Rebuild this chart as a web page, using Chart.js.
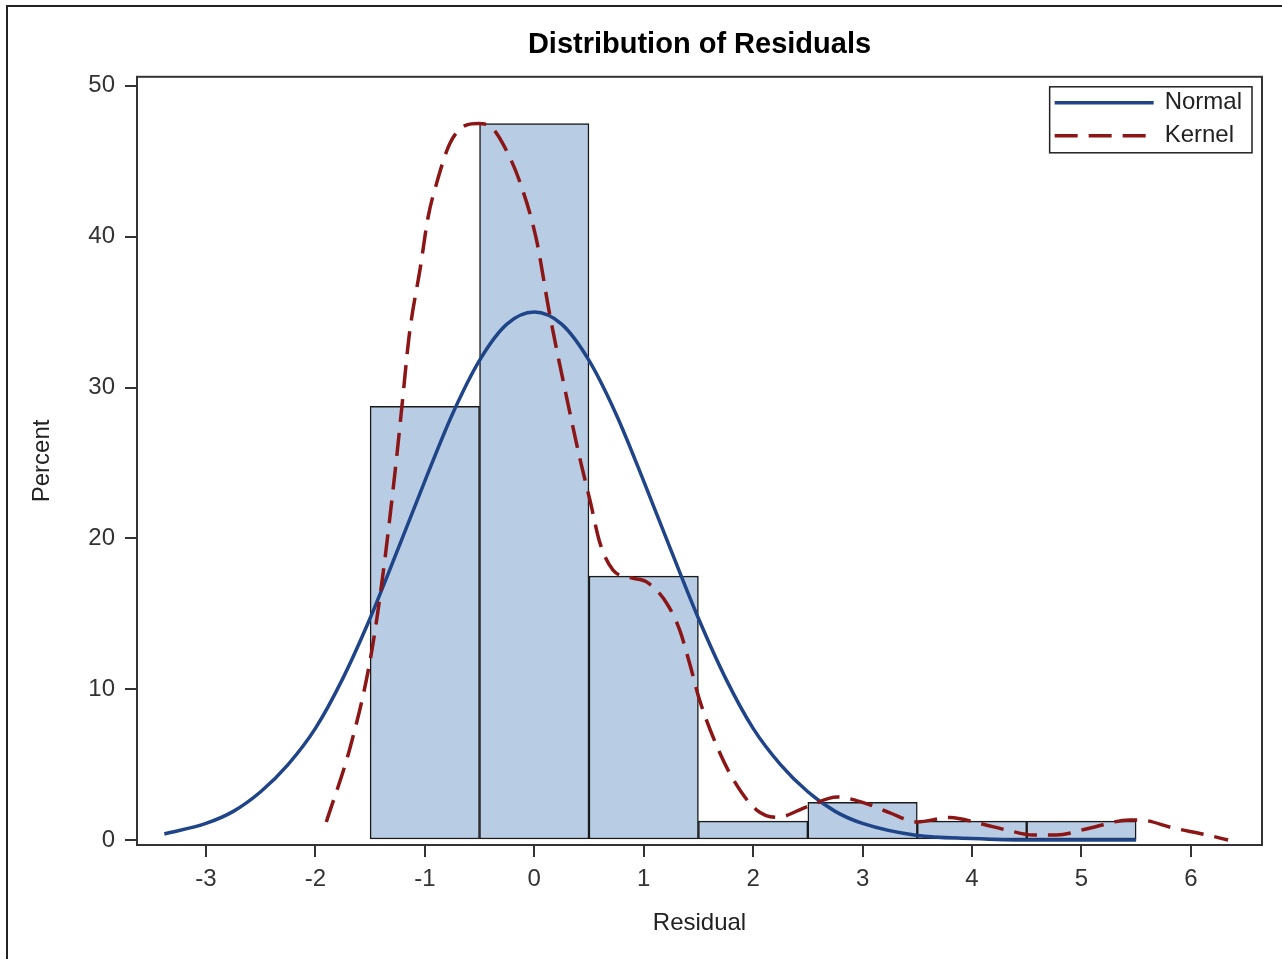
<!DOCTYPE html>
<html>
<head>
<meta charset="utf-8">
<title>Distribution of Residuals</title>
<script src="https://cdn.jsdelivr.net/npm/chart.js@4.4.1/dist/chart.umd.min.js"></script>
<style>
  html, body { margin: 0; padding: 0; background: #fff; overflow: hidden; }
  #wrap { position: relative; width: 1282px; height: 959px; }
  #frame {
    position: absolute; left: 6px; top: 5px; right: -10px; bottom: -10px;
    border-left: 2px solid #222; border-top: 2px solid #222;
    pointer-events: none;
  }
</style>
</head>
<body>
<div id="wrap">
  <canvas id="residChart"></canvas>
  <div id="frame"></div>
</div>
<script>
// histogram bins (percent of observations, bin width 1)
const binCenters  = [-1, 0, 1, 2, 3, 4, 5];
const binPercents = [28.75, 47.5, 17.5, 1.25, 2.5, 1.25, 1.25];

// normal density curve
const normalX = [-3.38, -3.0, -2.75, -2.5, -2.25, -2.0, -1.75, -1.5, -1.25, -1.0, -0.75, -0.5, -0.25,
                 0, 0.25, 0.5, 0.75, 1.0, 1.25, 1.5, 1.75, 2.0, 2.25, 2.5, 2.75, 3.0, 3.5, 4.0, 4.5, 5.0, 5.5];
const normalY = [0.4, 1.1, 1.9, 3.2, 5.0, 7.4, 10.7, 14.7, 19.2, 23.8, 28.2, 31.8, 34.2,
                 35.0, 34.2, 31.8, 28.2, 23.8, 19.2, 14.7, 10.7, 7.4, 5.0, 3.2, 1.9, 1.1, 0.3, 0.1, 0, 0, 0];

// kernel density curve
const kernelX = [-1.9, -1.68, -1.5, -1.39, -1.26, -1.21, -1.14, -1.04, -0.97, -0.89, -0.77, -0.62, -0.51,
                 -0.4, -0.29, -0.13, 0.02, 0.14, 0.3, 0.42, 0.51, 0.6, 0.72, 0.88, 1.03, 1.21, 1.33, 1.42,
                 1.51, 1.67, 1.82, 2.03, 2.22, 2.49, 2.77, 3.0, 3.25, 3.5, 3.8, 4.07, 4.32, 4.56, 4.77,
                 5.08, 5.44, 5.53, 5.84, 6.15, 6.34];
const kernelY = [1.2, 6.2, 11.9, 17.2, 25.2, 28.7, 33.6, 38.0, 41.3, 43.6, 46.2, 47.4, 47.5,
                 47.3, 46.2, 43.6, 39.8, 34.9, 29.2, 25.2, 22.5, 19.7, 17.9, 17.4, 17.1, 15.7, 13.9, 11.7,
                 9.3, 6.2, 4.0, 2.0, 1.5, 2.2, 2.85, 2.5, 1.8, 1.2, 1.5, 1.1, 0.66, 0.33, 0.33,
                 0.8, 1.33, 1.33, 0.8, 0.33, 0.0];

const xTicks = [-3, -2, -1, 0, 1, 2, 3, 4, 5, 6];
const yTicks = [0, 10, 20, 30, 40, 50];

const FONT = "'Liberation Sans', Arial, Helvetica, sans-serif";
const AXIS = '#333333';

const canvas = document.getElementById('residChart');

// ── box around the plot area ──
const plotFrame = {
  id: 'plotFrame',
  afterDatasetsDraw(chart) {
    const { ctx, chartArea: a } = chart;
    ctx.save();
    ctx.strokeStyle = AXIS;
    ctx.lineWidth = 2;
    ctx.strokeRect(a.left, a.top, a.right - a.left, a.bottom - a.top);
    ctx.restore();
  }
};

// ── legend box inside the top-right corner ──
const boxLegend = {
  id: 'boxLegend',
  afterDraw(chart) {
    const { ctx, chartArea: a } = chart;
    const items = chart.data.datasets.filter(d => d.type === 'line');
    ctx.save();
    ctx.font = '24px ' + FONT;
    const textW = Math.max(...items.map(d => ctx.measureText(d.label).width));
    const rowH = 33, padX = 5, lineLen = 99, gap = 11;
    const w = padX + lineLen + gap + textW + 10;
    const h = rowH * items.length;
    const x0 = a.right - 10 - w, y0 = a.top + 10;
    ctx.fillStyle = '#fff';
    ctx.fillRect(x0, y0, w, h);
    ctx.strokeStyle = '#222';
    ctx.lineWidth = 1.5;
    ctx.strokeRect(x0, y0, w, h);
    items.forEach((d, i) => {
      const cy = y0 + 16 + i * rowH;
      ctx.beginPath();
      ctx.setLineDash(d.borderDash || []);
      ctx.strokeStyle = d.borderColor;
      ctx.lineWidth = d.borderWidth;
      ctx.moveTo(x0 + padX, cy);
      ctx.lineTo(x0 + padX + lineLen, cy);
      ctx.stroke();
      ctx.setLineDash([]);
      ctx.fillStyle = '#222';
      ctx.textBaseline = 'middle';
      ctx.fillText(d.label, x0 + padX + lineLen + gap, cy);
    });
    ctx.restore();
  }
};

new Chart(canvas, {
  type: 'bar',
  data: {
    datasets: [
      {
        type: 'line',
        label: 'Normal',
        data: normalX.map((x, i) => ({ x, y: normalY[i] })),
        borderColor: '#1f4588',
        borderWidth: 3.5,
        pointRadius: 0,
        fill: false,
        cubicInterpolationMode: 'monotone',
        order: 2,
      },
      {
        type: 'line',
        label: 'Kernel',
        data: kernelX.map((x, i) => ({ x, y: kernelY[i] })),
        borderColor: '#8c1515',
        borderWidth: 3.5,
        borderDash: [23, 11],
        pointRadius: 0,
        fill: false,
        cubicInterpolationMode: 'monotone',
        order: 1,
      },
      {
        type: 'bar',
        label: 'Percent',
        data: binCenters.map((x, i) => ({ x, y: binPercents[i] })),
        backgroundColor: '#b8cce4',
        borderColor: '#1a1a1a',
        borderWidth: 1.5,
        borderSkipped: false,
        barPercentage: 1,
        categoryPercentage: 1,
        grouped: false,
        order: 3,
      },
    ],
  },
  options: {
    responsive: true,
    maintainAspectRatio: false,
    animation: false,
    layout: { padding: { left: 0, right: 20, top: 0, bottom: 0 } },
    plugins: {
      legend: { display: false },
      tooltip: { enabled: false },
      title: {
        display: true,
        text: 'Distribution of Residuals',
        color: '#000',
        font: { family: FONT, size: 29, weight: 'bold' },
        padding: { top: 28, bottom: 14 },
        fullSize: false,
      },
    },
    scales: {
      x: {
        type: 'linear',
        min: -3.63,
        max: 6.65,
        offset: false,
        afterBuildTicks: (s) => { s.ticks = xTicks.map(v => ({ value: v })); },
        afterFit: (s) => { s.height = 114; },
        ticks: {
          stepSize: 1,
          includeBounds: false,
          color: AXIS,
          padding: 8,
          maxRotation: 0,
          font: { family: FONT, size: 24 },
        },
        grid: { drawOnChartArea: false, drawTicks: true, tickLength: 12, color: AXIS, lineWidth: 2, offset: false },
        border: { color: AXIS, width: 2 },
        title: {
          display: true,
          text: 'Residual',
          color: '#222',
          font: { family: FONT, size: 24 },
          padding: { top: 0, bottom: 21 },
        },
      },
      y: {
        type: 'linear',
        min: -0.33,
        max: 50.6,
        afterBuildTicks: (s) => { s.ticks = yTicks.map(v => ({ value: v })); },
        afterFit: (s) => { s.width = 137; },
        ticks: {
          stepSize: 10,
          includeBounds: false,
          color: AXIS,
          padding: 10,
          font: { family: FONT, size: 24 },
        },
        grid: { drawOnChartArea: false, drawTicks: true, tickLength: 12, color: AXIS, lineWidth: 2 },
        border: { color: AXIS, width: 2 },
        title: {
          display: true,
          text: 'Percent',
          color: '#222',
          font: { family: FONT, size: 24 },
          padding: { top: 28, bottom: 0 },
        },
      },
    },
  },
  plugins: [plotFrame, boxLegend],
});
</script>
</body>
</html>
